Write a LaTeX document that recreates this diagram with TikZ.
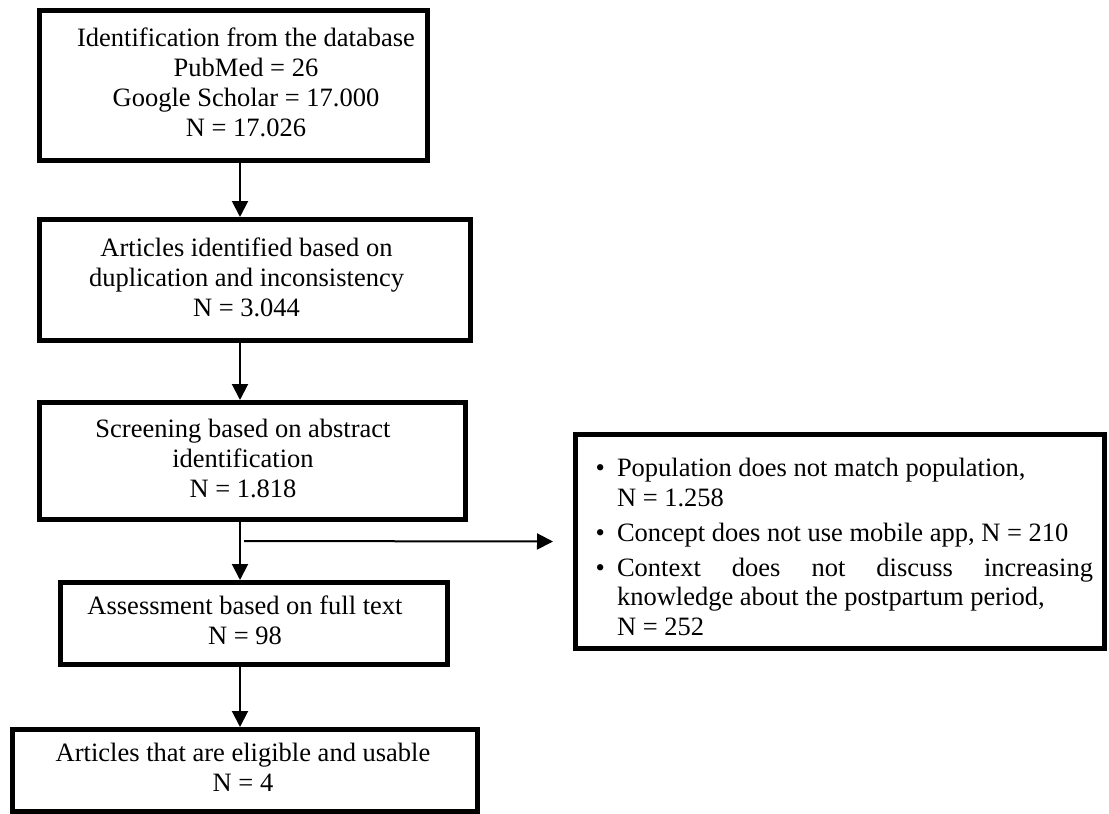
\documentclass[tikz,border=0pt]{standalone}
\usepackage{fontspec}
\setmainfont{Liberation Serif}
\usetikzlibrary{arrows.meta,calc}
\newcommand\txtright[2]{\begin{tabular}{@{\hspace{#1}}c@{}}#2\end{tabular}}
\newcommand\txtleft[2]{\begin{tabular}{@{}c@{\hspace{#1}}}#2\end{tabular}}
\begin{document}
\begin{tikzpicture}[x=1pt,y=-1pt,
  box/.style={draw,line width=5pt,inner sep=0pt,align=center,font=\fontsize{26.5}{30}\selectfont},
  arr/.style={line width=2pt,-{Triangle[width=16pt,length=16pt]}},
]
\useasboundingbox (0,0) rectangle (1109,814);
\node[box,minimum width=388pt,minimum height=150pt] (b1) at (233.5,85.5)
  {\txtright{25pt}{Identification from the database\\PubMed = 26\\Google Scholar = 17.000\\N = 17.026}};
\node[box,minimum width=431pt,minimum height=121pt] (b2) at (255,280)
  {\txtleft{17pt}{Articles identified based on\\duplication and inconsistency\\N = 3.044}};
\node[box,minimum width=426pt,minimum height=117pt] (b3) at (252.5,461)
  {\txtleft{19pt}{Screening based on abstract\\identification\\N = 1.818}};
\node[box,minimum width=387pt,minimum height=82pt] (b4) at (254,623.5)
  {\txtleft{18pt}{Assessment based on full text\\N = 98}};
\node[box,minimum width=465pt,minimum height=82pt] (b5) at (245,770.5)
  {\txtleft{4pt}{Articles that are eligible and usable\\N = 4}};
\node[box,font=\fontsize{26.5}{29.5}\selectfont,minimum width=529pt,minimum height=214pt,text width=524pt,align=justify] (rb) at (840,541.5)
  {\begin{list}{\textbullet}{\setlength\leftmargin{39pt}\setlength\labelwidth{20pt}\setlength\labelsep{12pt}%
     \setlength\rightmargin{9pt}\setlength\itemsep{5.5pt}\setlength\parsep{0pt}\setlength\topsep{0pt}\setlength\partopsep{0pt}}
   \item Population does not match population,\\N = 1.258
   \item Concept does not use mobile app, N = 210
   \item Context does not discuss increasing\linebreak knowledge about the postpartum period,\\N = 252
   \end{list}};
\coordinate (spine) at (240,0);
\coordinate (branch) at (244,541);
\draw[arr] (b1.south -| spine) -- (b2.north -| spine);
\draw[arr] (b2.south -| spine) -- (b3.north -| spine);
\draw[arr] (b3.south -| spine) -- (b4.north -| spine);
\draw[arr] (b4.south -| spine) -- (b5.north -| spine);
\draw[arr] (branch) -- ([xshift=-20pt]rb.west);
\end{tikzpicture}
\end{document}
